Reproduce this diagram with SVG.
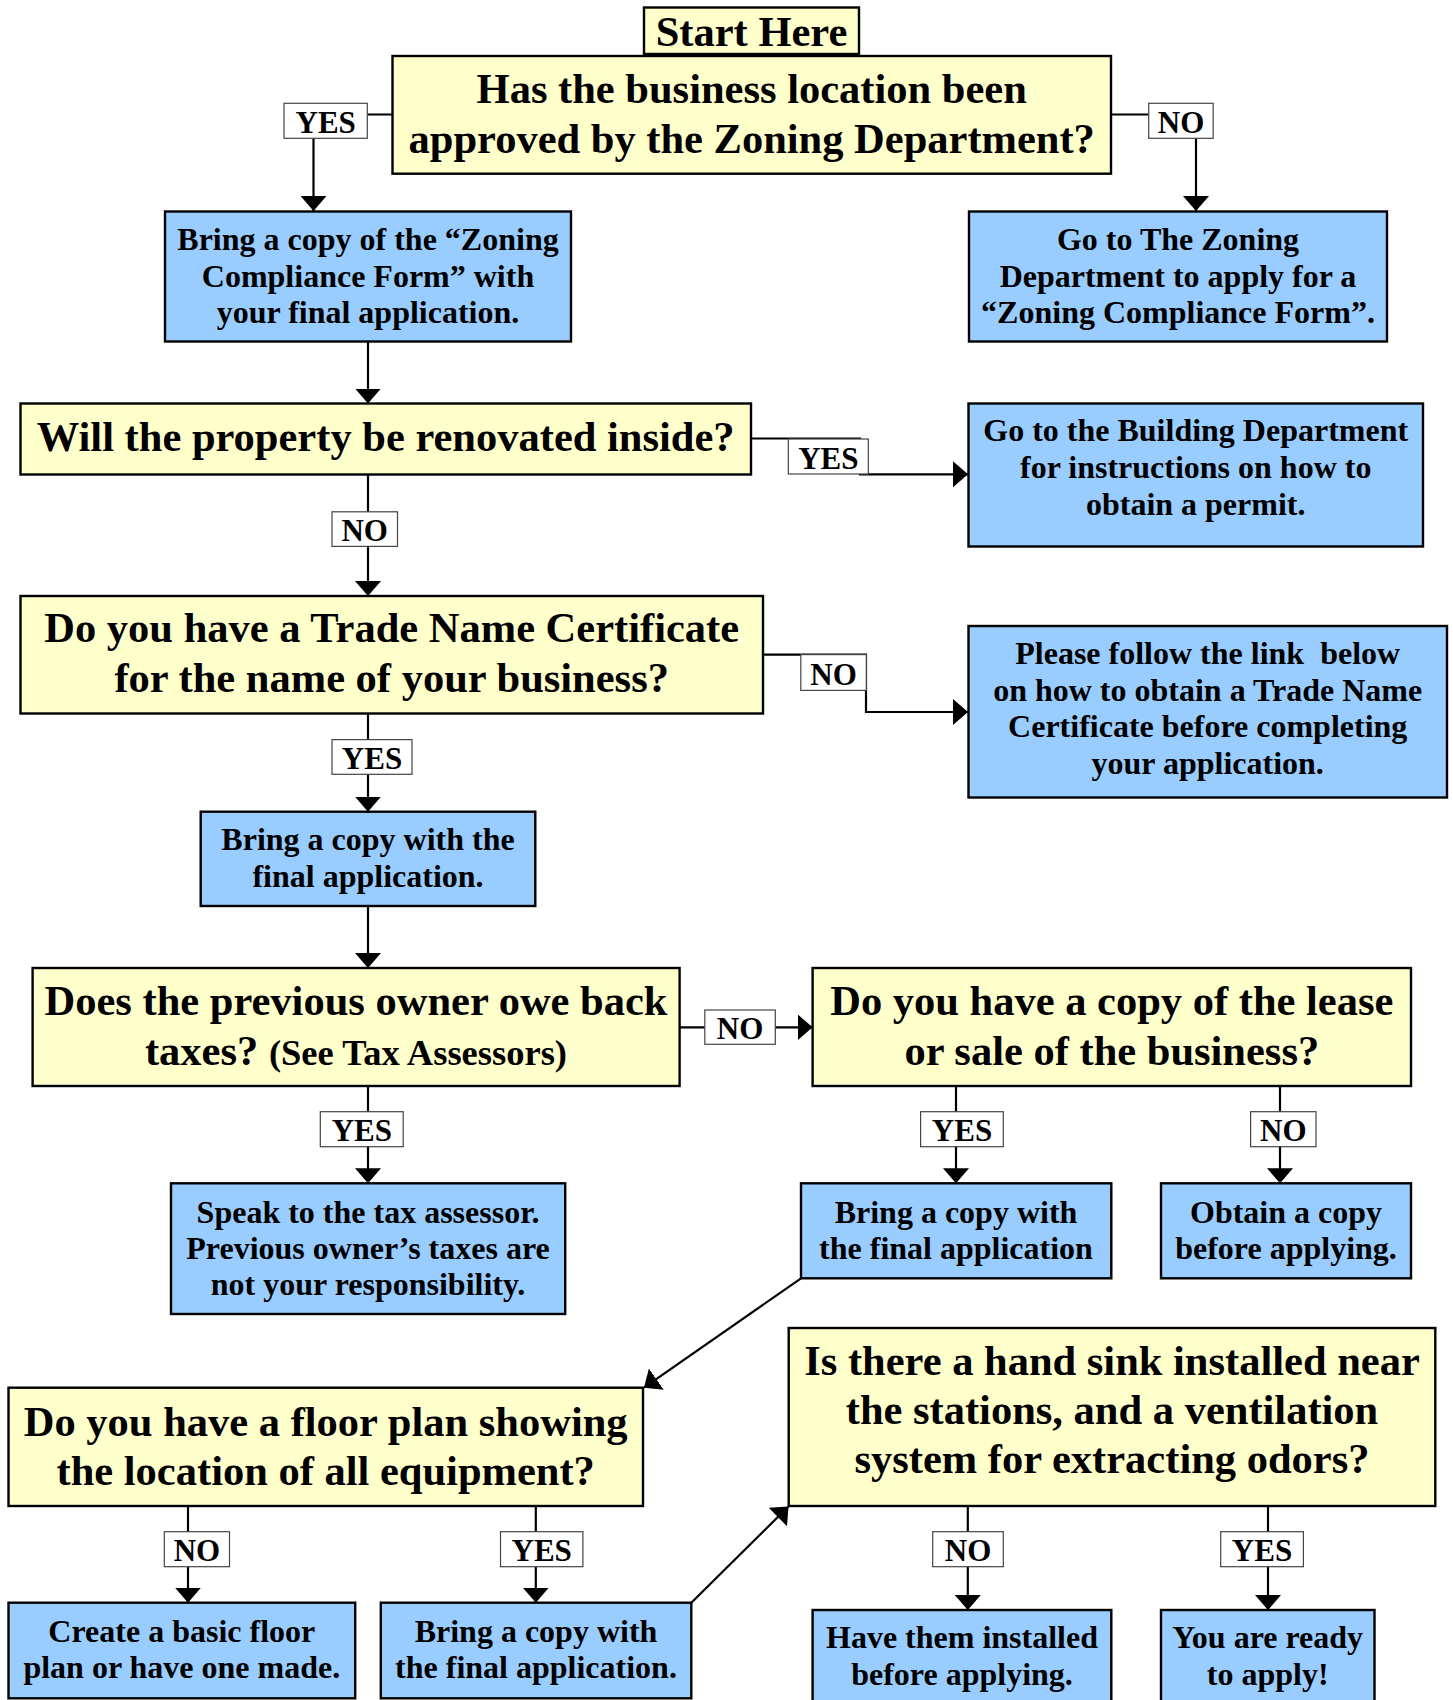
<svg xmlns="http://www.w3.org/2000/svg" width="1453" height="1700" viewBox="0 0 1453 1700">
<style>
text{font-family:"Liberation Serif","Times New Roman",serif;font-weight:bold;fill:#000;text-anchor:middle}
.q rect{fill:#FFFFCC;stroke:#000;stroke-width:2.4}
.a rect{fill:#99CCFF;stroke:#000;stroke-width:2.4}
.q text{font-size:42.5px}
.a text{font-size:32px}
.lbl rect{fill:#fff;stroke:#444;stroke-width:1.2}
.lbl text{font-size:31px}
.c{fill:none;stroke:#000;stroke-width:2.2}
.ca{fill:none;stroke:#000;stroke-width:2.2;marker-end:url(#ah)}
</style>
<defs>
<marker id="ah" markerUnits="userSpaceOnUse" markerWidth="16" markerHeight="26" refX="15" refY="13" orient="auto">
<path d="M0,0 L15,13 L0,26 Z" fill="#000"/>
</marker>
</defs>
<rect width="1453" height="1700" fill="#fff"/>

<g id="connectors">
<polyline class="ca" points="392.5,114.5 313.5,114.5 313.5,211"/>
<polyline class="ca" points="1111,114.5 1196,114.5 1196,211"/>
<polyline class="ca" points="368,342 368,403.5"/>
<polyline class="ca" points="751,438.5 860,438.5 860,474.3 968,474.3"/>
<polyline class="ca" points="368,474.5 368,596"/>
<polyline class="ca" points="763,654.6 866,654.6 866,712 968,712"/>
<polyline class="ca" points="368,713.5 368,811.7"/>
<polyline class="ca" points="368,906 368,968"/>
<polyline class="ca" points="679.6,1027.3 812.6,1027.3"/>
<polyline class="ca" points="368,1086 368,1183.3"/>
<polyline class="ca" points="956,1086 956,1183.3"/>
<polyline class="ca" points="1280,1086 1280,1183.3"/>
<polyline class="ca" points="801,1278.3 644,1387.7"/>
<polyline class="ca" points="188,1506 188,1602.7"/>
<polyline class="ca" points="535.8,1506 535.8,1602.7"/>
<polyline class="ca" points="691.3,1602.7 788.5,1506.5"/>
<polyline class="ca" points="967.8,1506 967.8,1610"/>
<polyline class="ca" points="1268,1506 1268,1610"/>
</g>

<g id="labels">
<g class="lbl" id="l1"><rect x="284" y="103.3" width="83.3" height="35"/><text x="325.7" y="132.8">YES</text></g>
<g class="lbl" id="l2"><rect x="1148.7" y="103.3" width="64.5" height="35"/><text x="1181" y="132.8">NO</text></g>
<g class="lbl" id="l3"><rect x="788.3" y="439" width="80" height="35"/><text x="828.3" y="468.5">YES</text></g>
<g class="lbl" id="l4"><rect x="332" y="511.8" width="65.5" height="34.6"/><text x="364.7" y="541.2">NO</text></g>
<g class="lbl" id="l5"><rect x="800.8" y="654.6" width="65.5" height="35.8"/><text x="833.5" y="684.5">NO</text></g>
<g class="lbl" id="l6"><rect x="332" y="739.6" width="80" height="34.7"/><text x="372" y="769">YES</text></g>
<g class="lbl" id="l7"><rect x="704.8" y="1010" width="70.5" height="34.3"/><text x="740" y="1039.2">NO</text></g>
<g class="lbl" id="l8"><rect x="320.3" y="1111.7" width="82.9" height="35"/><text x="361.8" y="1141.2">YES</text></g>
<g class="lbl" id="l9"><rect x="920.6" y="1111.7" width="82.7" height="35"/><text x="962" y="1141.2">YES</text></g>
<g class="lbl" id="l10"><rect x="1250.6" y="1111.7" width="65.4" height="35"/><text x="1283.3" y="1141.2">NO</text></g>
<g class="lbl" id="l11"><rect x="164.3" y="1531.7" width="65.2" height="35"/><text x="196.9" y="1561.2">NO</text></g>
<g class="lbl" id="l12"><rect x="500.5" y="1531.7" width="82.4" height="35"/><text x="541.7" y="1561.2">YES</text></g>
<g class="lbl" id="l13"><rect x="932.7" y="1531.7" width="70.6" height="35"/><text x="968" y="1561.2">NO</text></g>
<g class="lbl" id="l14"><rect x="1220.7" y="1531.7" width="82.7" height="35"/><text x="1262" y="1561.2">YES</text></g>
</g>

<g class="q" id="start"><rect x="644" y="7.5" width="215" height="46.5"/><text x="751.5" y="46">Start Here</text></g>

<g class="q" id="q1"><rect x="392.5" y="56" width="718.5" height="117.7"/>
<text x="751.7" y="103.3">Has the business location been</text>
<text x="751.7" y="153.3">approved by the Zoning Department?</text></g>

<g class="a" id="bring1"><rect x="165" y="211.5" width="406" height="130"/>
<text x="368" y="250">Bring a copy of the “Zoning</text>
<text x="368" y="286.7">Compliance Form” with</text>
<text x="368" y="323.3">your final application.</text></g>

<g class="a" id="zoning"><rect x="969" y="211.5" width="418" height="130"/>
<text x="1178" y="250">Go to The Zoning</text>
<text x="1178" y="286.7">Department to apply for a</text>
<text x="1178" y="323.3">“Zoning Compliance Form”.</text></g>

<g class="q" id="q2"><rect x="20.5" y="403.5" width="730.5" height="71"/>
<text x="385.7" y="451">Will the property be renovated inside?</text></g>

<g class="a" id="building"><rect x="968.5" y="403.5" width="454.5" height="143"/>
<text x="1195.7" y="441">Go to the Building Department</text>
<text x="1195.7" y="478">for instructions on how to</text>
<text x="1195.7" y="515">obtain a permit.</text></g>

<g class="q" id="q3"><rect x="20.5" y="596" width="742.5" height="117.5"/>
<text x="391.7" y="642">Do you have a Trade Name Certificate</text>
<text x="391.7" y="692">for the name of your business?</text></g>

<g class="a" id="trade"><rect x="968.5" y="626" width="478.5" height="171.5"/>
<text x="1207.7" y="663.5" xml:space="preserve">Please follow the link  below</text>
<text x="1207.7" y="700.5">on how to obtain a Trade Name</text>
<text x="1207.7" y="737">Certificate before completing</text>
<text x="1207.7" y="774">your application.</text></g>

<g class="a" id="bring2"><rect x="200.7" y="811.7" width="334.6" height="94.3"/>
<text x="368" y="850">Bring a copy with the</text>
<text x="368" y="886.7">final application.</text></g>

<g class="q" id="q4"><rect x="32.6" y="968" width="647" height="118"/>
<text x="356" y="1015">Does the previous owner owe back</text>
<text x="356" y="1065">taxes? <tspan style="font-size:36.5px">(See Tax Assessors)</tspan></text></g>

<g class="q" id="q5"><rect x="812.6" y="968" width="598.4" height="118"/>
<text x="1111.8" y="1015">Do you have a copy of the lease</text>
<text x="1111.8" y="1065">or sale of the business?</text></g>

<g class="a" id="speak"><rect x="171" y="1183.3" width="394.2" height="130.7"/>
<text x="368" y="1222.5">Speak to the tax assessor.</text>
<text x="368" y="1258.5">Previous owner’s taxes are</text>
<text x="368" y="1295">not your responsibility.</text></g>

<g class="a" id="bring3"><rect x="801" y="1183.3" width="310.3" height="95"/>
<text x="956" y="1223">Bring a copy with</text>
<text x="956" y="1258.5">the final application</text></g>

<g class="a" id="obtain"><rect x="1161" y="1183.3" width="250" height="95"/>
<text x="1286" y="1223">Obtain a copy</text>
<text x="1286" y="1258.5">before applying.</text></g>

<g class="q" id="q6"><rect x="8.5" y="1387.7" width="634.5" height="118.3"/>
<text x="325.7" y="1436">Do you have a floor plan showing</text>
<text x="325.7" y="1485">the location of all equipment?</text></g>

<g class="q" id="q7"><rect x="788.7" y="1328" width="646.6" height="178"/>
<text x="1112" y="1375">Is there a hand sink installed near</text>
<text x="1112" y="1424">the stations, and a ventilation</text>
<text x="1112" y="1473">system for extracting odors?</text></g>

<g class="a" id="create"><rect x="8.5" y="1602.7" width="346.7" height="95.6"/>
<text x="181.8" y="1641.7">Create a basic floor</text>
<text x="181.8" y="1678.3">plan or have one made.</text></g>

<g class="a" id="bring4"><rect x="380.8" y="1602.7" width="310.5" height="95.6"/>
<text x="536" y="1641.7">Bring a copy with</text>
<text x="536" y="1678.3">the final application.</text></g>

<g class="a" id="have"><rect x="812.6" y="1610" width="298.7" height="100"/>
<text x="962" y="1648.3">Have them installed</text>
<text x="962" y="1685">before applying.</text></g>

<g class="a" id="ready"><rect x="1161" y="1610" width="213.5" height="100"/>
<text x="1267.7" y="1648.3">You are ready</text>
<text x="1267.7" y="1685">to apply!</text></g>
</svg>
